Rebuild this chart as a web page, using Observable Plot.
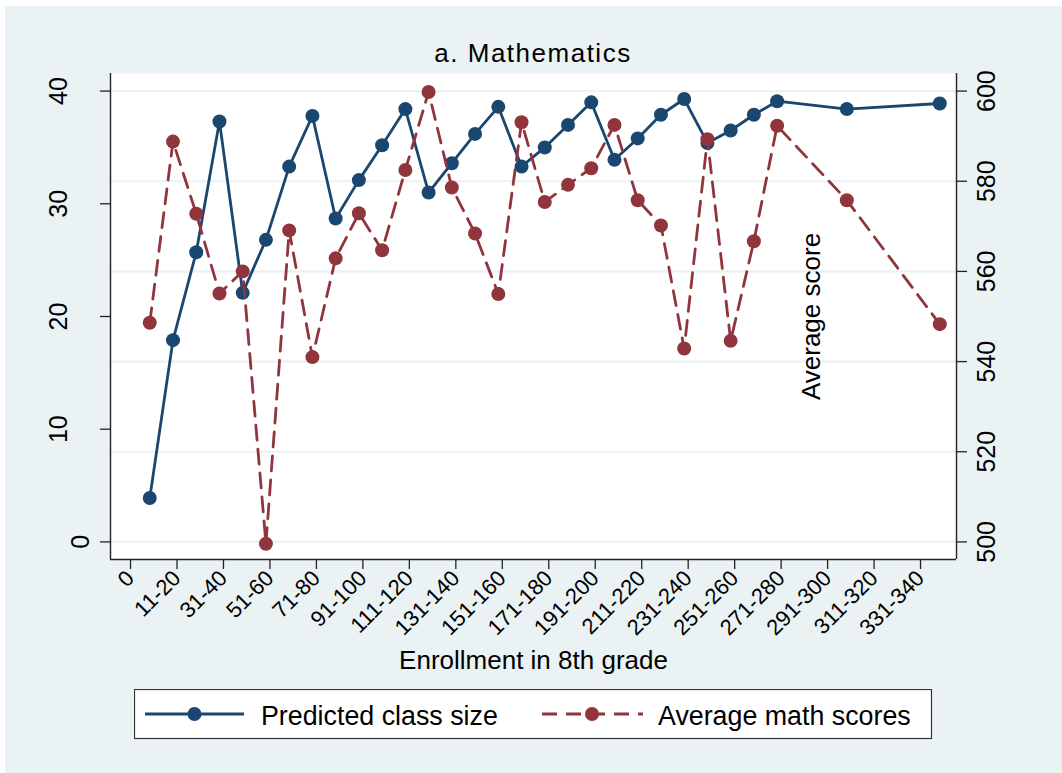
<!DOCTYPE html>
<html>
<head>
<meta charset="utf-8">
<script src="https://cdn.jsdelivr.net/npm/d3@7"></script>
<script src="https://cdn.jsdelivr.net/npm/@observablehq/plot@0.6"></script>
<style>
  html, body { margin: 0; padding: 0; background: #ffffff; }
  #page { position: relative; width: 1062px; height: 773px; overflow: hidden; font-family: "Liberation Sans", Arial, sans-serif; }
  #bg { position: absolute; left: 5px; top: 6px; right: 0; bottom: 0; background: #eaf2f3; }
  #title { position: absolute; left: 110px; width: 846px; top: 40px; text-align: center; font-size: 26px; line-height: 26px; letter-spacing: 1.5px; color: #000; }
  #chart { position: absolute; left: 0; top: 73px; }
  #legend { position: absolute; left: 134px; top: 689px; }
</style>
</head>
<body>
<div id="page">
  <div id="bg"></div>
  <div id="title">a. Mathematics</div>
  <div id="chart"></div>
  <div id="legend"></div>
</div>
<script>
// ---- data ----
const enrollIndex = [1,2,3,4,5,6,7,8,9,10,11,12,13,14,15,16,17,18,19,20,21,22,23,24,25,26,27,28,31,35];
const classSize = [3.9,17.9,25.7,37.3,22.1,26.8,33.3,37.8,28.7,32.1,35.2,38.4,31.0,33.6,36.2,38.6,33.3,35.0,37.0,39.0,33.9,35.8,37.9,39.3,35.4,36.5,37.9,39.1,38.4,38.9];
const mathScores = [548.6,588.8,572.8,555.1,560.0,499.6,569.1,541.0,562.9,572.9,564.7,582.5,599.8,578.6,568.4,555.0,593.1,575.4,579.2,582.9,592.5,575.8,570.2,542.9,589.3,544.6,566.7,592.3,575.8,548.3];
const xTickValues = [0,2,4,6,8,10,12,14,16,18,20,22,24,26,28,30,32,34];
const xTickLabels = ["0","11-20","31-40","51-60","71-80","91-100","111-120","131-140","151-160","171-180","191-200","211-220","231-240","251-260","271-280","291-300","311-320","331-340"];
const leftTicks = [0,10,20,30,40];
const rightTicks = [500,520,540,560,580,600];
const titleText = "a. Mathematics";
const xTitle = "Enrollment in 8th grade";
const noteText = "Average score";
const noteX = 29.5, noteY = 20;
const seriesNames = ["Predicted class size", "Average math scores"];

// ---- styling ----
const BLUE = "#1a476f";
const RED = "#90353b";
const GRID = "#eaf2f3";
const AXIS = "#222222";
const FONT = "Liberation Sans, Arial, sans-serif";

const xDom = [-0.69, 35.72];
const yDom = [-1.56, 41.56];
const toLeft = s => (s - 500) / 2.5;

const blueData = enrollIndex.map((x, i) => ({x, y: classSize[i]}));
const redData = enrollIndex.map((x, i) => ({x, y: toLeft(mathScores[i]), score: mathScores[i]}));

const chart = Plot.plot({
  width: 1062,
  height: 607,
  marginLeft: 110,
  marginRight: 106,
  marginTop: 0,
  marginBottom: 121,
  style: {background: "transparent", fontFamily: FONT, color: "#000", overflow: "visible"},
  x: {type: "linear", domain: xDom},
  y: {type: "linear", domain: yDom},
  marks: [
    Plot.frame({fill: "white", stroke: "none"}),
    Plot.gridY(rightTicks.map(toLeft), {stroke: GRID, strokeOpacity: 1, strokeWidth: 2.2}),
    Plot.ruleX([xDom[0]], {stroke: AXIS, strokeWidth: 1.4}),
    Plot.ruleX([xDom[1]], {stroke: AXIS, strokeWidth: 1.4}),
    Plot.ruleY([yDom[0]], {stroke: AXIS, strokeWidth: 1.4}),
    Plot.axisX(xTickValues, {
      tickFormat: d => xTickLabels[xTickValues.indexOf(d)],
      tickRotate: -45, tickSize: 10, tickPadding: 5, fontSize: 22, label: null,
      stroke: AXIS, strokeWidth: 1.3, dx: 4
    }),
    Plot.axisY(leftTicks.filter(d => d !== 0), {
      anchor: "left", tickRotate: -90, tickSize: 10, tickPadding: 34, fontSize: 25,
      textAnchor: "middle", lineAnchor: "bottom", label: null, stroke: AXIS, strokeWidth: 1.3,
      tickFormat: d => String(d)
    }),
    Plot.axisY(leftTicks.filter(d => d === 0), {
      anchor: "left", tickRotate: -90, tickSize: 10, tickPadding: 12, fontSize: 25,
      textAnchor: "middle", lineAnchor: "bottom", label: null, stroke: AXIS, strokeWidth: 1.3,
      tickFormat: d => String(d)
    }),
    Plot.axisY(rightTicks.map(toLeft), {
      anchor: "right", tickRotate: -90, tickSize: 10, tickPadding: 11, fontSize: 25,
      textAnchor: "middle", lineAnchor: "top", label: null, stroke: AXIS, strokeWidth: 1.3,
      tickFormat: d => String(Math.round(500 + d * 2.5))
    }),
    Plot.line(blueData, {x: "x", y: "y", stroke: BLUE, strokeWidth: 2.8}),
    Plot.dot(blueData, {x: "x", y: "y", r: 7, fill: BLUE, stroke: "none"}),
    Plot.line(redData, {x: "x", y: "y", stroke: RED, strokeWidth: 2.8, strokeDasharray: "15,9"}),
    Plot.dot(redData, {x: "x", y: "y", r: 7, fill: RED, stroke: "none"}),
    Plot.text([noteText], {x: () => noteX, y: () => noteY, text: d => d, rotate: -90, fontSize: 26, fill: "#000", textAnchor: "middle", lineAnchor: "middle"}),
    Plot.text([xTitle], {frameAnchor: "bottom", text: d => d, lineAnchor: "bottom", dy: 109, fontSize: 26, fill: "#000"})
  ]
});
chart.querySelectorAll("text").forEach(t => {
  const fs = parseFloat(t.getAttribute("font-size") || "0");
  if (fs >= 24) t.setAttribute("letter-spacing", "0.9");
});
document.getElementById("chart").appendChild(chart);
document.getElementById("title").textContent = titleText;

// ---- legend ----
const ns = "http://www.w3.org/2000/svg";
const lg = document.createElementNS(ns, "svg");
lg.setAttribute("width", 799);
lg.setAttribute("height", 51);
lg.innerHTML = `
  <rect x="0.5" y="0.5" width="797" height="49" fill="white" stroke="#333" stroke-width="1.2"/>
  <line x1="11" y1="25" x2="110" y2="25" stroke="${BLUE}" stroke-width="2.8"/>
  <circle cx="60.5" cy="25" r="7" fill="${BLUE}"/>
  <text x="127" y="36" font-family="${FONT}" font-size="26.8" fill="#000">${seriesNames[0]}</text>
  <line x1="408" y1="25" x2="509" y2="25" stroke="${RED}" stroke-width="2.8" stroke-dasharray="15,9"/>
  <circle cx="458" cy="25" r="7" fill="${RED}"/>
  <text x="524" y="36" font-family="${FONT}" font-size="26.8" fill="#000">${seriesNames[1]}</text>
`;
document.getElementById("legend").appendChild(lg);
</script>
</body>
</html>
